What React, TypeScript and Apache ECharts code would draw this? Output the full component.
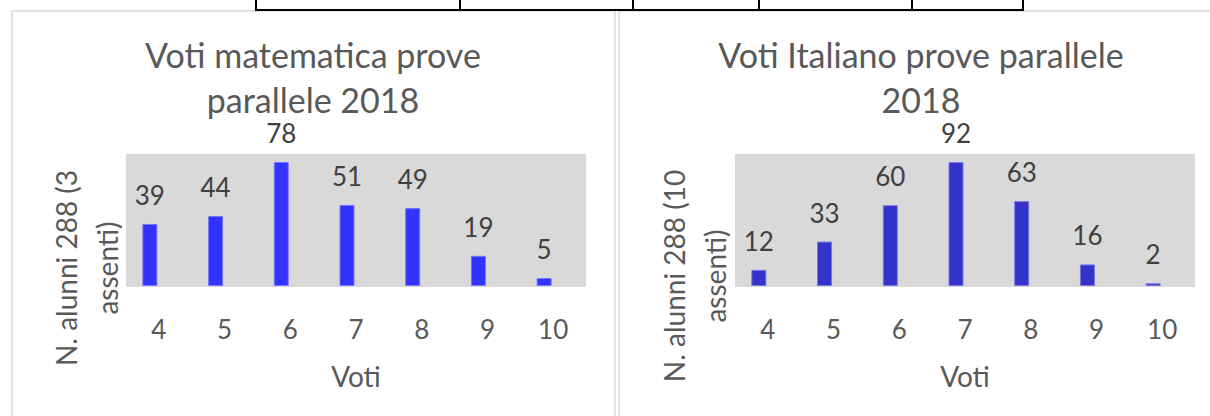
import React, { useEffect, useRef } from "react";
import * as echarts from "echarts";

const categories = ["4", "5", "6", "7", "8", "9", "10"];
const mathValues = [39, 44, 78, 51, 49, 19, 5];
const italianValues = [12, 33, 60, 92, 63, 16, 2];
const mathTitle = "Voti matematica prove\nparallele 2018";
const italianTitle = "Voti Italiano prove parallele\n2018";
const mathYName = "N. alunni 288 (3\nassenti)";
const italianYName = "N. alunni 288 (10\nassenti)";
const xName = "Voti";

const FONT = "Lato, 'Noto Sans', sans-serif";
const TEXT = "#595959";
const LABEL = "#404040";

export default function App() {
  const ref = useRef<HTMLDivElement>(null);
  useEffect(() => {
    if (!ref.current) return;
    const chart = echarts.init(ref.current, null, { renderer: "svg" });
    const xAxisBase = (gridIndex: number) => ({
      type: "category" as const,
      gridIndex,
      data: categories,
      axisLine: { show: false },
      axisTick: { show: false },
      splitLine: { show: false },
      axisLabel: {
        color: TEXT,
        fontFamily: FONT,
        fontSize: 26,
        margin: 30,
        padding: [0, 0, 0, 18],
      },
      name: xName,
      nameLocation: "middle" as const,
      nameGap: 76,
      nameTextStyle: {
        color: TEXT,
        fontFamily: FONT,
        fontSize: 28,
        padding: [0, 0, 0, 18],
      },
    });
    const yAxisBase = (gridIndex: number, max: number) => ({
      type: "value" as const,
      gridIndex,
      min: 0,
      max,
      show: false,
      splitLine: { show: false },
    });
    const labelOpt = {
      show: true,
      position: "top" as const,
      distance: 16,
      color: LABEL,
      fontFamily: FONT,
      fontSize: 26,
    };
    chart.setOption({
      animation: false,
      backgroundColor: "#ffffff",
      grid: [
        { left: 117, top: 154, width: 460, height: 132 },
        { left: 726, top: 154, width: 460, height: 132 },
      ],
      xAxis: [xAxisBase(0), xAxisBase(1)],
      yAxis: [yAxisBase(0, 83), yAxisBase(1, 98)],
      series: [
        {
          type: "bar",
          name: "Matematica",
          xAxisIndex: 0,
          yAxisIndex: 0,
          data: mathValues,
          barWidth: 15,
          itemStyle: { color: "#3333FF", borderColor: "#7777FF", borderWidth: 1 },
          label: labelOpt,
          z: 5,
        },
        {
          type: "bar",
          name: "Italiano",
          xAxisIndex: 1,
          yAxisIndex: 1,
          data: italianValues,
          barWidth: 15,
          itemStyle: { color: "#3333CC", borderColor: "#7777DD", borderWidth: 1 },
          label: labelOpt,
          z: 5,
        },
      ],
      graphic: [
        // chart frames
        {
          type: "rect",
          z: -10,
          shape: { x: 12, y: 11, width: 603, height: 500 },
          style: { fill: "#ffffff", stroke: "#d9d9d9", lineWidth: 1.5 },
        },
        {
          type: "rect",
          z: -10,
          shape: { x: 619, y: 11, width: 700, height: 500 },
          style: { fill: "#ffffff", stroke: "#d9d9d9", lineWidth: 1.5 },
        },
        // plot area backgrounds
        {
          type: "rect",
          z: -5,
          shape: { x: 126, y: 154, width: 460, height: 133 },
          style: { fill: "#D9D9D9" },
        },
        {
          type: "rect",
          z: -5,
          shape: { x: 735, y: 154, width: 460, height: 133 },
          style: { fill: "#D9D9D9" },
        },
        // table fragment at the top
        {
          type: "polyline",
          z: 10,
          shape: { points: [[255, 10], [1024, 10]] },
          style: { stroke: "#000", lineWidth: 2, fill: null },
        },
        ...[256, 460, 633, 759, 912, 1023].map((x) => ({
          type: "line",
          z: 10,
          shape: { x1: x, y1: 0, x2: x, y2: 10 },
          style: { stroke: "#000", lineWidth: 2 },
        })),
        // titles
        {
          type: "text",
          x: 313,
          y: 77,
          style: {
            text: mathTitle,
            fill: TEXT,
            fontFamily: FONT,
            fontSize: 34,
            lineHeight: 45,
            align: "center",
            verticalAlign: "middle",
          },
        },
        {
          type: "text",
          x: 921,
          y: 77,
          style: {
            text: italianTitle,
            fill: TEXT,
            fontFamily: FONT,
            fontSize: 34,
            lineHeight: 45,
            align: "center",
            verticalAlign: "middle",
          },
        },
        // y axis names
        {
          type: "text",
          x: 86,
          y: 268,
          rotation: Math.PI / 2,
          style: {
            text: mathYName,
            fill: TEXT,
            fontFamily: FONT,
            fontSize: 28,
            lineHeight: 41,
            align: "center",
            verticalAlign: "middle",
          },
        },
        {
          type: "text",
          x: 694,
          y: 276,
          rotation: Math.PI / 2,
          style: {
            text: italianYName,
            fill: TEXT,
            fontFamily: FONT,
            fontSize: 28,
            lineHeight: 41,
            align: "center",
            verticalAlign: "middle",
          },
        },
      ],
    });
    return () => chart.dispose();
  }, []);
  return (
    <div
      ref={ref}
      style={{ position: "absolute", left: 0, top: 0, width: 1210, height: 416 }}
    />
  );
}
